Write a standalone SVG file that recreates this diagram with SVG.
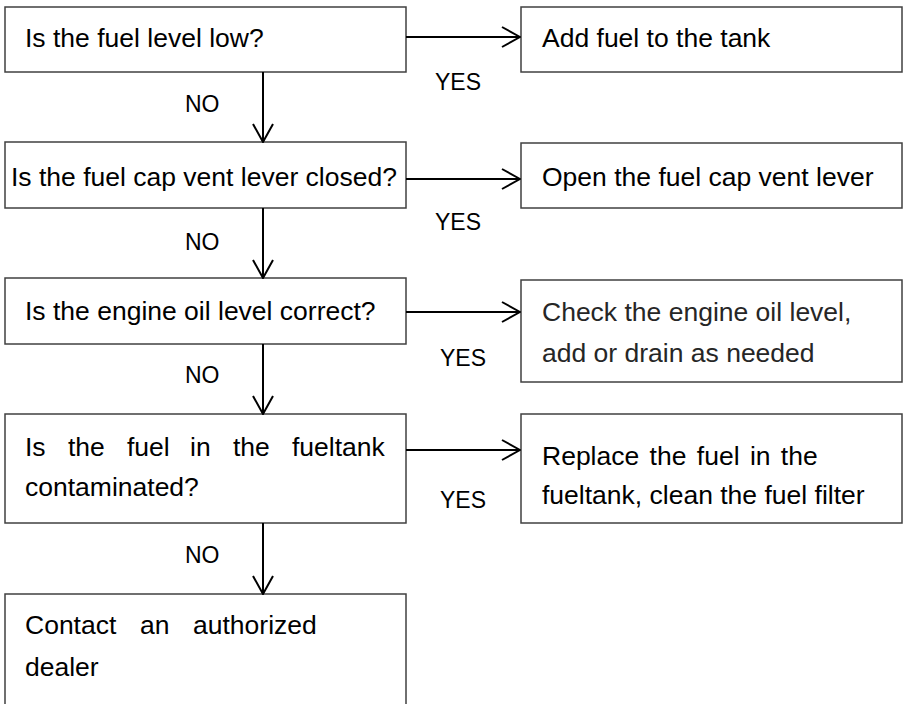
<svg xmlns="http://www.w3.org/2000/svg" width="904" height="704" viewBox="0 0 904 704">
  <style>
    .box { fill: #ffffff; stroke: #404040; stroke-width: 1.5; }
    .txt { font-family: "Liberation Sans", Arial, sans-serif; font-size: 26.5px; fill: #000000; }
    .soft { fill: #262626; }
    .lbl { font-family: "Liberation Sans", Arial, sans-serif; font-size: 23px; fill: #000000; }
    .wire { stroke: #000000; stroke-width: 2; fill: none; }
    .head { stroke: #000000; stroke-width: 2; fill: none; stroke-linejoin: miter; }
  </style>
  <defs>
    <marker id="arrow" viewBox="0 0 20 22" refX="19" refY="11" markerWidth="20" markerHeight="22" markerUnits="userSpaceOnUse" orient="auto">
      <polyline class="head" points="1,1 19,11 1,21"/>
    </marker>
  </defs>
  <rect width="904" height="704" fill="#ffffff"/>

  <!-- questions (left column) -->
  <g id="q-fuel-low">
    <rect class="box" x="5" y="7" width="401" height="65"/>
    <text class="txt" x="25" y="47">Is the fuel level low?</text>
  </g>
  <g id="q-vent-closed">
    <rect class="box" x="5" y="142" width="401" height="66"/>
    <text class="txt" x="11" y="186">Is the fuel cap vent lever closed?</text>
  </g>
  <g id="q-oil-level">
    <rect class="box" x="5" y="278" width="401" height="66"/>
    <text class="txt" x="25" y="320">Is the engine oil level correct?</text>
  </g>
  <g id="q-contaminated">
    <rect class="box" x="5" y="414" width="401" height="109"/>
    <text class="txt" y="456"><tspan x="25">Is</tspan><tspan x="68">the</tspan><tspan x="127">fuel</tspan><tspan x="190">in</tspan><tspan x="233">the</tspan><tspan x="292">fueltank</tspan></text>
    <text class="txt" x="25" y="496">contaminated?</text>
  </g>
  <g id="contact-dealer">
    <rect class="box" x="5" y="594" width="401" height="130"/>
    <text class="txt" y="634"><tspan x="25">Contact</tspan><tspan x="140">an</tspan><tspan x="193">authorized</tspan></text>
    <text class="txt" x="25" y="676">dealer</text>
  </g>

  <!-- actions (right column) -->
  <g id="a-add-fuel">
    <rect class="box" x="521" y="7" width="381" height="65"/>
    <text class="txt" x="542" y="47">Add fuel to the tank</text>
  </g>
  <g id="a-open-vent">
    <rect class="box" x="521" y="143" width="381" height="65"/>
    <text class="txt" x="542" y="186">Open the fuel cap vent lever</text>
  </g>
  <g id="a-check-oil">
    <rect class="box" x="521" y="280" width="381" height="102"/>
    <text class="txt soft" x="542" y="321">Check the engine oil level,</text>
    <text class="txt soft" x="542" y="362">add or drain as needed</text>
  </g>
  <g id="a-replace-fuel">
    <rect class="box" x="521" y="414" width="381" height="109"/>
    <text class="txt" x="542" y="465" word-spacing="3">Replace the fuel in the</text>
    <text class="txt" x="542" y="504">fueltank, clean the fuel filter</text>
  </g>

  <!-- connectors -->
  <g id="connectors">
    <line class="wire" x1="406" y1="37" x2="520" y2="37" marker-end="url(#arrow)"/>
    <line class="wire" x1="406" y1="179" x2="520" y2="179" marker-end="url(#arrow)"/>
    <line class="wire" x1="406" y1="312" x2="520" y2="312" marker-end="url(#arrow)"/>
    <line class="wire" x1="406" y1="450" x2="520" y2="450" marker-end="url(#arrow)"/>

    <line class="wire" x1="263" y1="72" x2="263" y2="142" marker-end="url(#arrow)"/>
    <line class="wire" x1="263" y1="208" x2="263" y2="278" marker-end="url(#arrow)"/>
    <line class="wire" x1="263" y1="344" x2="263" y2="414" marker-end="url(#arrow)"/>
    <line class="wire" x1="263" y1="523" x2="263" y2="594" marker-end="url(#arrow)"/>

    <text class="lbl" x="435" y="90">YES</text>
    <text class="lbl" x="435" y="230">YES</text>
    <text class="lbl" x="440" y="366">YES</text>
    <text class="lbl" x="440" y="508">YES</text>

    <text class="lbl" x="185" y="112">NO</text>
    <text class="lbl" x="185" y="250">NO</text>
    <text class="lbl" x="185" y="383">NO</text>
    <text class="lbl" x="185" y="563">NO</text>
  </g>
</svg>
